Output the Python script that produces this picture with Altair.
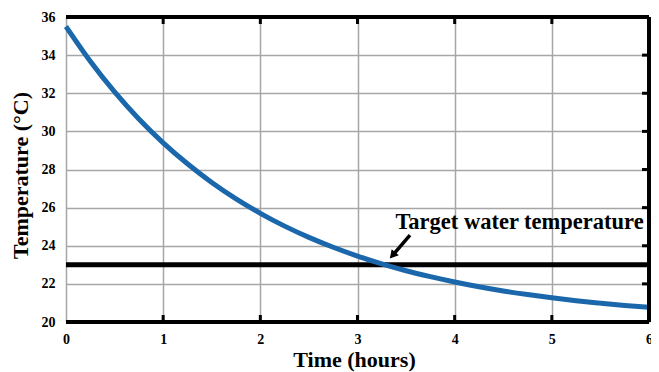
import altair as alt
import pandas as pd

# ---- data ----
time_h = [0, 0.25, 0.5, 0.75, 1.0, 1.25, 1.5, 1.75, 2.0, 2.25, 2.5, 2.75, 3.0,
          3.25, 3.5, 3.75, 4.0, 4.25, 4.5, 4.75, 5.0, 5.25, 5.5, 5.75, 6.0]
temp_c = [35.5, 33.68, 32.07, 30.65, 29.40, 28.30, 27.32, 26.46, 25.70, 25.03,
          24.44, 23.92, 23.46, 23.05, 22.69, 22.38, 22.10, 21.85, 21.63, 21.44,
          21.27, 21.12, 20.99, 20.87, 20.77]
x_ticks = [0, 1, 2, 3, 4, 5, 6]
y_ticks = [20, 22, 24, 26, 28, 30, 32, 34, 36]
inner_x_ticks = [1, 2, 3, 4, 5]
inner_y_ticks = [22, 24, 26, 28, 30, 32, 34]
x_domain = [0, 6]
y_domain = [20, 36]
target_temp = [23]
label_text = ["Target water temperature"]
label_x = [3.39]
label_y = [24.88]
arrow_x = [3.54]
arrow_y = [24.56]
arrow_x2 = [3.37]
arrow_y2 = [23.55]

FONT = "Liberation Serif"
W, H = 583, 305

xs = alt.Scale(domain=x_domain, nice=False, zero=False)
ys = alt.Scale(domain=y_domain, nice=False, zero=False)

curve_df = pd.DataFrame({"t": time_h, "T": temp_c})

x_axis = alt.Axis(values=x_ticks, grid=True, gridColor="#a6a6a6", gridWidth=1.5,
                  ticks=False, domain=False, labelFont=FONT, labelFontSize=14,
                  labelFontWeight="bold", labelColor="black", labelPadding=10,
                  labelFlush=False, title="Time (hours)", titleFont=FONT,
                  titleFontSize=22, titleFontWeight="bold", titleColor="black",
                  titlePadding=3, titleX=288, format="d")
y_axis = alt.Axis(values=y_ticks, grid=True, gridColor="#a6a6a6", gridWidth=1.5,
                  ticks=False, domain=False, labelFont=FONT, labelFontSize=14,
                  labelFontWeight="bold", labelColor="black", labelPadding=11,
                  title="Temperature (°C)", titleFont=FONT, titleFontSize=22,
                  titleFontWeight="bold", titleColor="black", titlePadding=9,
                  titleY=158, format="d")


def X(f):
    return alt.X(f, scale=xs, axis=x_axis)


def Y(f):
    return alt.Y(f, scale=ys, axis=y_axis)


target = alt.Chart(pd.DataFrame({"y": target_temp})).mark_rule(
    color="black", strokeWidth=5).encode(y=Y("y:Q"))

curve = alt.Chart(curve_df).mark_line(
    color="#1b67ab", strokeWidth=5, interpolate="monotone").encode(
    x=X("t:Q"), y=Y("T:Q"))

frame_h = alt.Chart(pd.DataFrame({"y": y_domain})).mark_rule(
    color="black", strokeWidth=4).encode(y=Y("y:Q"))
frame_r = alt.Chart(pd.DataFrame({"x": [x_domain[1]]})).mark_rule(
    color="black", strokeWidth=4).encode(x=X("x:Q"))

ix = pd.DataFrame({"x": inner_x_ticks})
tick_b = alt.Chart(ix).mark_rule(color="black", strokeWidth=3).encode(
    x=X("x:Q"), y=alt.value(H), y2=alt.value(H - 7))
tick_t = alt.Chart(ix).mark_rule(color="black", strokeWidth=3).encode(
    x=X("x:Q"), y=alt.value(0), y2=alt.value(7))
iy = pd.DataFrame({"y": inner_y_ticks})
tick_r = alt.Chart(iy).mark_rule(color="black", strokeWidth=3).encode(
    y=Y("y:Q"), x=alt.value(W), x2=alt.value(W - 7))

arrow_df = pd.DataFrame({"x": arrow_x, "y": arrow_y, "x2": arrow_x2, "y2": arrow_y2})
shaft = alt.Chart(arrow_df).mark_rule(color="black", strokeWidth=3.5).encode(
    x=X("x:Q"), y=Y("y:Q"), x2="x2:Q", y2="y2:Q")
head = alt.Chart(arrow_df).mark_point(
    shape="triangle", filled=True, color="black", opacity=1, size=90, angle=221).encode(
    x=X("x2:Q"), y=Y("y2:Q"))

label = alt.Chart(pd.DataFrame({"x": label_x, "y": label_y, "t": label_text})).mark_text(
    align="left", baseline="alphabetic", font=FONT, fontSize=22.5,
    fontWeight="bold", color="black").encode(
    x=X("x:Q"), y=Y("y:Q"), text="t:N")

chart = alt.layer(target, curve, frame_h, frame_r, tick_b, tick_t, tick_r,
                  shaft, head, label).properties(
    width=W, height=H,
    autosize=alt.AutoSizeParams(type="none"),
    padding={"left": 58, "top": 9, "right": 2, "bottom": 50},
    background="white",
).configure_view(stroke=None)

chart.save("out.html", embed_options={"renderer": "svg", "actions": False})
